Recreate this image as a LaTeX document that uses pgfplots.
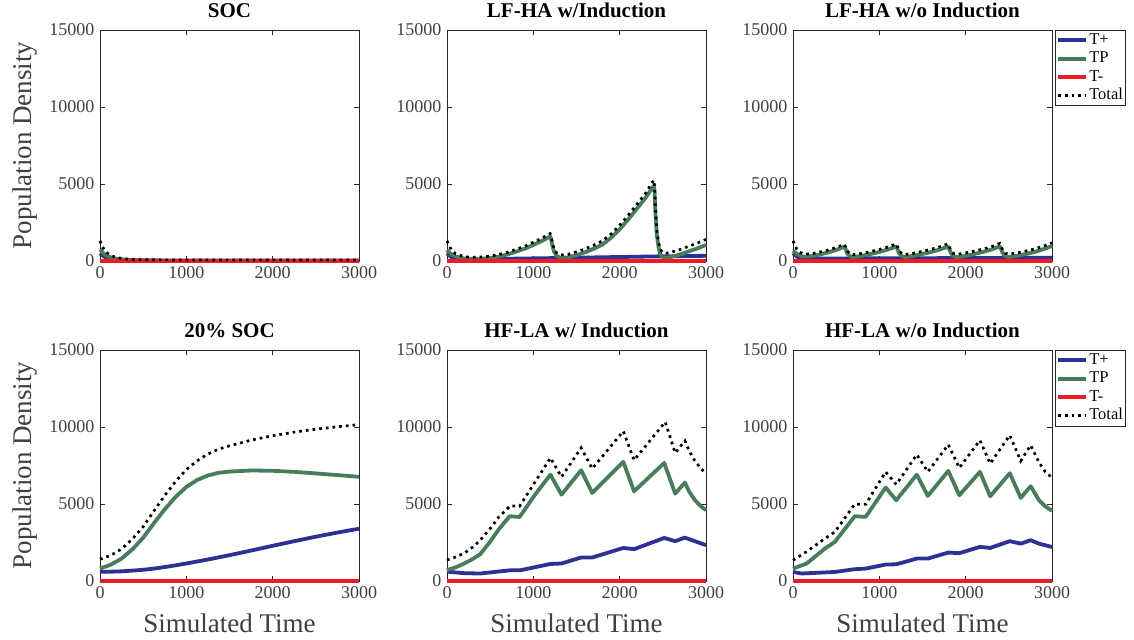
\documentclass[border=0pt]{standalone}
\usepackage{fontspec}
\setmainfont{Liberation Serif}
\usepackage{pgfplots}
\pgfplotsset{compat=1.18}
\definecolor{cTp}{RGB}{46,49,146}
\definecolor{cTP}{RGB}{72,124,90}
\definecolor{cTm}{RGB}{237,28,36}
\definecolor{axgray}{RGB}{38,38,38}
\definecolor{lblgray}{RGB}{64,64,64}
\pgfplotsset{
 panel/.style={
  scale only axis, width=259pt, height=231pt,
  xmin=0,xmax=3000,ymin=0,ymax=15000,
  xtick={0,1000,2000,3000}, ytick={0,5000,10000,15000},
  scaled ticks=false,
  /pgf/number format/1000 sep={},
  /pgf/number format/assume math mode=true,
  tick align=inside, major tick length=5pt,
  axis line style={axgray, line width=0.6pt},
  tick style={axgray, line width=0.6pt},
  tick label style={font=\fontsize{18}{20}\selectfont, text=lblgray},
  xticklabel style={yshift=-2pt},
  yticklabel style={xshift=-2pt},
  title style={font=\fontsize{21}{24}\selectfont\bfseries, at={(axis description cs:0.5,1)}, anchor=base, yshift=6pt},
  xlabel style={font=\fontsize{27}{30}\selectfont, text=lblgray, at={(axis description cs:0.5,-0.185)}, anchor=center},
  ylabel style={font=\fontsize{27}{30}\selectfont, text=lblgray, at={(axis description cs:-0.29,0.5)}, anchor=center, rotate=0},
  clip=false,
  legend style={at={(axis description cs:1,1)}, anchor=north west, xshift=3pt, draw=axgray, line width=0.5pt,
    font=\fontsize{16.5}{19}\selectfont, inner sep=1pt, row sep=0pt, cells={anchor=west},
    nodes={inner sep=1.2pt, text height=12pt, text depth=4pt}},
  legend image code/.code={\draw[#1] (0pt,0pt) -- (28pt,0pt);},
 },
 tplus/.style={cTp, line width=3.8pt, line join=round},
 tpp/.style={cTP, line width=3.8pt, line join=round},
 tminus/.style={cTm, line width=3.8pt},
 ttot/.style={black, line width=2.7pt, dash pattern=on 2.7pt off 4pt},
}
\begin{document}
\begin{tikzpicture}
\path (0pt,0pt) rectangle (1134pt,638pt);
% ---------- SOC ----------
\begin{axis}[panel, at={(100pt,379pt)}, anchor=south west, title={SOC}, ylabel={Population Density}]
\addplot[tplus] coordinates {(0,500)(30,350)(60,250)(100,170)(150,110)(200,75)(300,40)(400,25)(600,15)(1000,10)(3000,10)};
\addplot[tpp] coordinates {(0,750)(30,550)(60,400)(100,280)(150,190)(200,130)(300,75)(400,50)(600,35)(1000,25)(3000,20)};
\addplot[tminus] coordinates {(0,0)(3000,0)};
\addplot[ttot] coordinates {(0,1300)(30,900)(60,650)(100,450)(150,300)(200,205)(300,125)(400,90)(600,70)(1000,60)(3000,60)};
\end{axis}
% ---------- LF-HA w/Induction ----------
\begin{axis}[panel, at={(447pt,379pt)}, anchor=south west, title={LF-HA w/Induction}]
\addplot[tplus] coordinates {(0,500)(50,250)(100,140)(200,100)(1200,180)(2400,290)(3000,330)};
\addplot[tpp] coordinates {(0,700)(50,430)(100,280)(200,160)(300,125)(400,135)(500,190)(600,280)(700,420)(800,600)(900,790)(1000,1040)(1100,1300)(1195,1580)(1205,1450)(1220,1000)(1240,600)(1270,330)(1310,210)(1350,190)(1400,220)(1500,380)(1600,560)(1700,790)(1800,1060)(1900,1500)(2000,2050)(2100,2700)(2200,3400)(2300,4100)(2395,4880)(2405,4500)(2415,3000)(2430,1700)(2450,900)(2470,450)(2500,230)(2550,200)(2600,260)(2700,420)(2800,620)(2900,810)(3000,1040)};
\addplot[tminus] coordinates {(0,0)(3000,0)};
\addplot[ttot] coordinates {(0,1300)(50,720)(100,460)(200,270)(300,235)(400,250)(500,310)(600,410)(700,560)(800,750)(900,950)(1000,1210)(1100,1480)(1195,1770)(1205,1640)(1220,1190)(1240,790)(1270,520)(1310,400)(1350,390)(1400,420)(1500,590)(1600,780)(1700,1020)(1800,1300)(1900,1750)(2000,2310)(2100,2970)(2200,3680)(2300,4390)(2395,5250)(2405,4850)(2415,3300)(2430,2000)(2450,1200)(2470,760)(2500,530)(2550,510)(2600,570)(2700,740)(2800,950)(2900,1150)(3000,1400)};
\end{axis}
% ---------- LF-HA w/o Induction ----------
\begin{axis}[panel, at={(793pt,379pt)}, anchor=south west, title={LF-HA w/o Induction}]
\addplot[tplus] coordinates {(0,500)(50,260)(100,170)(200,150)(1000,165)(2000,185)(3000,200)};
\addlegendentry{T+}
\addplot[tpp] coordinates {(0,650)(40,470)(80,340)(120,280)(200,300)(300,400)(400,540)(500,710)(595,920)(610,750)(630,480)(660,300)(700,250)(800,330)(900,450)(1000,580)(1100,740)(1195,930)(1210,760)(1230,490)(1260,300)(1300,250)(1400,330)(1500,450)(1600,580)(1700,740)(1795,930)(1810,760)(1830,490)(1860,300)(1900,250)(2000,330)(2100,450)(2200,580)(2300,740)(2395,950)(2410,770)(2430,490)(2460,300)(2500,250)(2600,330)(2700,450)(2800,580)(2900,760)(3000,970)};
\addlegendentry{TP}
\addplot[tminus] coordinates {(0,0)(3000,0)};
\addlegendentry{T-}
\addplot[ttot] coordinates {(0,1300)(40,800)(80,560)(120,460)(200,450)(300,555)(400,695)(500,870)(595,1080)(610,910)(630,640)(660,455)(700,405)(800,485)(900,605)(1000,745)(1100,905)(1195,1100)(1210,930)(1230,660)(1260,470)(1300,420)(1400,500)(1500,625)(1600,755)(1700,915)(1795,1110)(1810,940)(1830,670)(1860,480)(1900,430)(2000,515)(2100,635)(2200,765)(2300,930)(2395,1140)(2410,960)(2430,680)(2460,490)(2500,440)(2600,525)(2700,645)(2800,780)(2900,960)(3000,1170)};
\addlegendentry{Total}
\end{axis}
% ---------- 20% SOC ----------
\begin{axis}[panel, at={(100pt,59pt)}, anchor=south west, title={20\% SOC}, ylabel={Population Density}, xlabel={Simulated Time}]
\addplot[tplus] coordinates {(0,590)(125,600)(250,620)(375,670)(500,720)(625,800)(750,900)(875,1010)(1000,1130)(1125,1260)(1250,1390)(1375,1530)(1500,1670)(1750,1970)(2000,2280)(2250,2580)(2500,2870)(2750,3140)(3000,3390)};
\addplot[tpp] coordinates {(0,800)(125,1050)(250,1450)(375,2050)(500,2800)(625,3750)(750,4650)(875,5450)(1000,6100)(1125,6550)(1250,6850)(1375,7020)(1500,7100)(1750,7170)(2000,7150)(2250,7080)(2500,6980)(2750,6870)(3000,6760)};
\addplot[tminus] coordinates {(0,0)(3000,0)};
\addplot[ttot] coordinates {(0,1400)(125,1660)(250,2070)(375,2720)(500,3520)(625,4540)(750,5550)(875,6450)(1000,7230)(1125,7800)(1250,8240)(1375,8560)(1500,8770)(1750,9140)(2000,9430)(2250,9660)(2500,9850)(2750,10010)(3000,10150)};
\end{axis}
% ---------- HF-LA w/ Induction ----------
\begin{axis}[panel, at={(447pt,59pt)}, anchor=south west, title={HF-LA w/ Induction}, xlabel={Simulated Time}]
\addplot[tplus] coordinates {(0,600)(200,500)(384,480)(733,690)(849,690)(1198,1100)(1326,1130)(1554,1520)(1682,1520)(2042,2140)(2167,2060)(2516,2790)(2643,2580)(2756,2810)(3000,2320)};
\addplot[tpp] coordinates {(0,700)(100,880)(200,1130)(300,1430)(384,1730)(500,2550)(600,3350)(725,4200)(841,4150)(1020,5600)(1198,6900)(1326,5600)(1554,7190)(1682,5710)(2042,7730)(2167,5820)(2516,7660)(2643,5670)(2756,6390)(2800,5850)(2870,5250)(2940,4850)(3000,4590)};
\addplot[tminus] coordinates {(0,0)(3000,0)};
\addplot[ttot] coordinates {(0,1350)(100,1550)(200,1800)(300,2200)(384,2640)(500,3400)(600,4150)(733,4870)(841,4850)(1198,7990)(1326,6750)(1554,8640)(1682,7290)(2042,9720)(2167,7840)(2528,10320)(2643,8310)(2756,9090)(2800,8500)(2870,7800)(2940,7300)(3000,6970)};
\end{axis}
% ---------- HF-LA w/o Induction ----------
\begin{axis}[panel, at={(793pt,59pt)}, anchor=south west, title={HF-LA w/o Induction}, xlabel={Simulated Time}]
\addplot[tplus] coordinates {(0,580)(100,480)(484,580)(715,760)(842,800)(1073,1060)(1196,1080)(1434,1450)(1561,1450)(1799,1840)(1926,1800)(2165,2210)(2284,2140)(2511,2580)(2638,2420)(2753,2640)(2849,2420)(3000,2200)};
\addlegendentry{T+}
\addplot[tpp] coordinates {(0,800)(158,1130)(369,2100)(484,2530)(715,4200)(842,4160)(1073,6060)(1196,5240)(1434,6900)(1561,5520)(1799,7140)(1926,5560)(2165,7080)(2284,5500)(2511,6990)(2638,5390)(2753,6150)(2849,5240)(2920,4850)(3000,4550)};
\addlegendentry{TP}
\addplot[tminus] coordinates {(0,0)(3000,0)};
\addlegendentry{T-}
\addplot[ttot] coordinates {(0,1340)(158,1900)(369,2750)(484,3180)(715,4980)(842,4980)(1073,7080)(1196,6260)(1434,8200)(1561,7080)(1799,8850)(1926,7340)(2165,9130)(2284,7620)(2511,9460)(2638,7790)(2753,8810)(2849,7700)(2920,7100)(3000,6700)};
\addlegendentry{Total}
\end{axis}
\end{tikzpicture}
\end{document}
